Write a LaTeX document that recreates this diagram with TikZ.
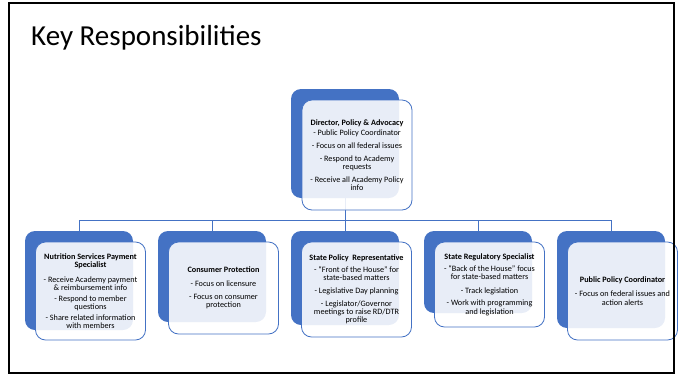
\documentclass[tikz,border=0pt]{standalone}
\usepackage{fontspec}
\setmainfont{Carlito}
\usetikzlibrary{positioning,backgrounds}

\begin{document}
\begin{tikzpicture}[x=1pt,y=-1pt,font=\fontsize{8.2}{8.4}\selectfont,
  backbox/.style={fill=cblue,draw=none,rounded corners=10pt,minimum width=108pt,inner sep=0pt},
  frontbox/.style={draw=cblue,line width=0.8pt,fill=white,fill opacity=0.88,text opacity=1,
    rounded corners=10pt,minimum width=110pt,inner sep=2pt,align=center},
  link/.style={draw=cblue,line width=0.9pt}]
\definecolor{cblue}{HTML}{4472C4}
\useasboundingbox (0,0) rectangle (683,378);
% ===== title =====
\node[anchor=base west,inner sep=0pt,font=\fontsize{29}{30}\selectfont] (title) at (31,45) {Key Responsibilities};
% ===== director (top) =====
\node[backbox,minimum height=109pt] (dirback) at (345,143.5) {};
\node[frontbox,minimum height=110pt] (dir) at (357,155)
  {\textbf{Director, Policy \& Advocacy}\\[2.3pt]
   - Public Policy Coordinator\\[4.3pt]
   - Focus on all federal issues\\[4.3pt]
   - Respond to Academy\\ requests\\[4.3pt]
   - Receive all Academy Policy\\ info};
% ===== second row: back plates =====
\node[backbox,minimum height=99pt] (nspback) at (79,280.5) {};
\node[backbox,minimum height=91pt] (cpback) at (212,276.5) {};
\node[backbox,minimum height=94pt] (spback) at (345,278) {};
\node[backbox,minimum height=82pt] (srback) at (478,272) {};
\node[backbox,minimum height=97pt] (ppback) at (611,279.5) {};
% ===== second row: text cards =====
\node[frontbox,minimum height=98pt] (nsp) at (90.5,291)
  {\textbf{Nutrition Services Payment}\\ \textbf{Specialist}\\[6.3pt]
   - Receive Academy payment\\ \& reimbursement info\\[2.2pt]
   - Respond to member\\ questions\\[2.2pt]
   - Share related information\\ with members};
\node[frontbox,minimum height=92pt] (cp) at (223.5,288)
  {\textbf{Consumer Protection}\\[5.6pt]
   - Focus on licensure\\[4.3pt]
   - Focus on consumer\\ protection};
\node[frontbox,minimum height=95pt] (sp) at (356.5,289.5)
  {\textbf{State Policy~ Representative}\\[3.3pt]
   - “Front of the House” for\\ state-based matters\\[4.8pt]
   - Legislative Day planning\\[4pt]
   - Legislator/Governor\\ meetings to raise RD/DTR\\ profile};
\node[frontbox,minimum height=85pt] (sr) at (489.5,284.5)
  {\textbf{State Regulatory Specialist}\\[3.6pt]
   - “Back of the House” focus\\ for state-based matters\\[5.2pt]
   - Track legislation\\[4.3pt]
   - Work with programming\\ and legislation};
\node[frontbox,minimum height=98pt] (pp) at (622.5,291)
  {\textbf{Public Policy Coordinator}\\[5.6pt]
   - Focus on federal issues and\\ action alerts};
% connectors sit behind the cards
\begin{scope}[on background layer]
\coordinate (bus) at (345,220);
\draw[link] (dirback.south) -- (bus);
\foreach \b in {nspback,cpback,spback,srback,ppback}
  \draw[link] (bus) -| (\b.north);
\end{scope}
% ===== slide frame =====
\draw[line width=2pt] (9,3) rectangle (674,373);
\end{tikzpicture}
\end{document}
